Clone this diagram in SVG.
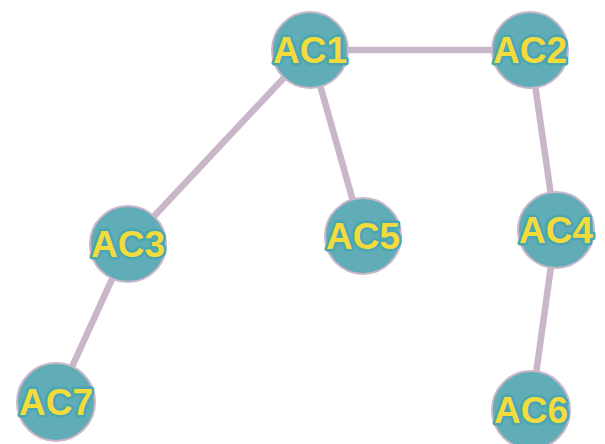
<svg xmlns="http://www.w3.org/2000/svg" width="605" height="444" viewBox="0 0 605 444">
  <style>
    .edge { stroke: #c9b6c9; stroke-width: 6.5; stroke-linecap: round; fill: none; }
    .node circle { fill: #60adb8; stroke: #c9b6c9; stroke-width: 2; }
    .node text { font-family: "Liberation Sans", Arial, sans-serif; font-weight: bold; font-size: 37px;
                 fill: #f3db3c; stroke: #4aa6b0; stroke-width: 5; paint-order: stroke; stroke-linejoin: round;
                 text-anchor: middle; }
  </style>
  <rect width="605" height="444" fill="#ffffff"/>
  <g id="connectors">
    <line class="edge" x1="310" y1="50" x2="530" y2="50"/>
    <line class="edge" x1="310" y1="50" x2="128" y2="244"/>
    <line class="edge" x1="310" y1="50" x2="363" y2="236"/>
    <line class="edge" x1="530" y1="50" x2="556" y2="230"/>
    <line class="edge" x1="556" y1="230" x2="531" y2="410"/>
    <line class="edge" x1="128" y1="244" x2="56" y2="402"/>
  </g>
  <g id="AC1" class="node"><circle cx="310" cy="50" r="38"/><text x="310" y="63">AC1</text></g>
  <g id="AC2" class="node"><circle cx="530" cy="50" r="38"/><text x="530" y="63">AC2</text></g>
  <g id="AC3" class="node"><circle cx="128" cy="244" r="38"/><text x="128" y="257">AC3</text></g>
  <g id="AC5" class="node"><circle cx="363" cy="236" r="38"/><text x="363" y="249">AC5</text></g>
  <g id="AC4" class="node"><circle cx="556" cy="230" r="38"/><text x="556" y="243">AC4</text></g>
  <g id="AC7" class="node"><circle cx="56" cy="402" r="39"/><text x="56" y="415">AC7</text></g>
  <g id="AC6" class="node"><circle cx="531" cy="410" r="39"/><text x="531" y="423">AC6</text></g>
</svg>
